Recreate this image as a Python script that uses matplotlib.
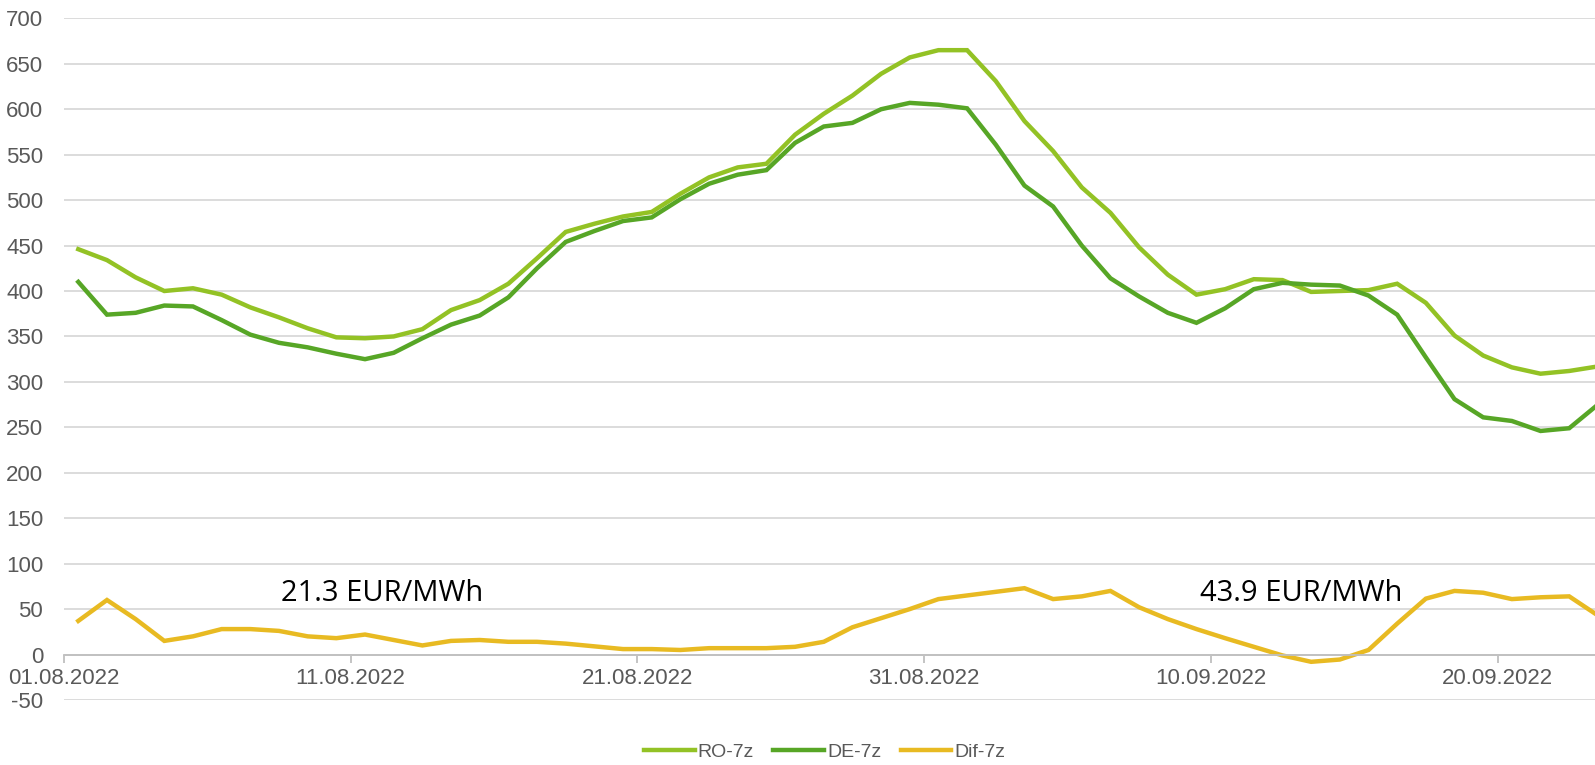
import matplotlib
matplotlib.use("Agg")
import matplotlib.pyplot as plt
import matplotlib.dates as mdates
import numpy as np
import pandas as pd

# daily 7-day averages, EUR/MWh
days = pd.date_range("2022-08-01", periods=54, freq="D")
ro_7z = [446, 434, 415, 400, 403, 396, 382, 371, 359, 349, 348, 350, 358, 379, 390, 408,
         436, 465, 474, 482, 487, 507, 525, 536, 540, 572, 595, 615, 639, 657, 665, 665,
         631, 587, 554, 514, 486, 448, 418, 396, 402, 413, 412, 399, 400, 401, 408, 387,
         351, 329, 316, 309, 312, 317]
de_7z = [410, 374, 376, 384, 383, 368, 352, 343, 338, 331, 325, 332, 348, 363, 373, 393,
         425, 454, 466, 477, 481, 501, 518, 528, 533, 563, 581, 585, 600, 607, 605, 601,
         561, 516, 493, 450, 414, 394, 376, 365, 381, 402, 409, 407, 406, 395, 374, 327,
         281, 261, 257, 246, 249, 275]
dif_7z = [37, 60, 39, 15, 20, 28, 28, 26, 20, 18, 22, 16, 10, 15, 16, 14,
          14, 12, 9, 6, 6, 5, 7, 7, 7, 8.5, 14, 30, 40, 50, 61, 65,
          69, 73, 61, 64, 70, 52, 39, 28, 18, 8.5, -1, -8, -5.5, 5, 34, 61.5,
          70, 68, 61, 63, 64, 43]
notes = ["21.3 EUR/MWh", "43.9 EUR/MWh"]
note_dates = ["2022-08-12 02:00", "2022-09-13 04:00"]
note_y = [67, 67]

RO_COLOR = "#93C225"
DE_COLOR = "#57A626"
DIF_COLOR = "#E8BA22"
TEXT_GRAY = "#595959"

plt.rcParams["font.family"] = ["Liberation Sans Narrow", "Liberation Sans", "DejaVu Sans"]
plt.rcParams["axes.unicode_minus"] = False

fig = plt.figure(figsize=(15.95, 7.65), dpi=100)
ax = fig.add_axes([0.0401, 0.085, 0.9599, 0.891])

x = days + pd.Timedelta(hours=12)  # Excel puts points mid-day between ticks
ax.plot(x, ro_7z, color=RO_COLOR, lw=3.2, label="RO-7z", solid_joinstyle="miter")
ax.plot(x, de_7z, color=DE_COLOR, lw=3.2, label="DE-7z", solid_joinstyle="miter")
ax.plot(x, dif_7z, color=DIF_COLOR, lw=3.2, label="Dif-7z", solid_joinstyle="miter")

for txt, d, yv in zip(notes, note_dates, note_y):
    ax.text(pd.Timestamp(d), yv, txt, fontsize=21, color="black",
            ha="center", va="center", family=["Open Sans", "DejaVu Sans"])

ax.set_ylim(-50, 700)
ax.set_yticks(np.arange(-50, 701, 50))
ax.set_xlim(pd.Timestamp("2022-08-01"), pd.Timestamp("2022-08-01") + pd.Timedelta(days=53.4))
ax.set_xticks(pd.date_range("2022-08-01", periods=6, freq="10D"))
ax.xaxis.set_major_formatter(mdates.DateFormatter("%d.%m.%Y"))

ax.grid(axis="y", color="#D9D9D9", lw=1.3)
ax.set_axisbelow(True)
for s in ("top", "right", "left"):
    ax.spines[s].set_visible(False)
ax.spines["bottom"].set_position(("data", 0))
ax.spines["bottom"].set_color("#BFBFBF")
ax.spines["bottom"].set_linewidth(1.3)
ax.tick_params(axis="y", length=0, labelsize=16, labelcolor=TEXT_GRAY, pad=15)
ax.tick_params(axis="x", length=6, color="#BFBFBF", width=1.3, labelsize=16,
               labelcolor=TEXT_GRAY, pad=4)

leg = fig.legend(loc="lower center", bbox_to_anchor=(0.517, -0.018), ncol=3, frameon=False,
                 fontsize=14, handlelength=2.6, columnspacing=1.0, handletextpad=0.15)
for t in leg.get_texts():
    t.set_color(TEXT_GRAY)

fig.savefig("out.png", dpi=100, bbox_inches=None)
